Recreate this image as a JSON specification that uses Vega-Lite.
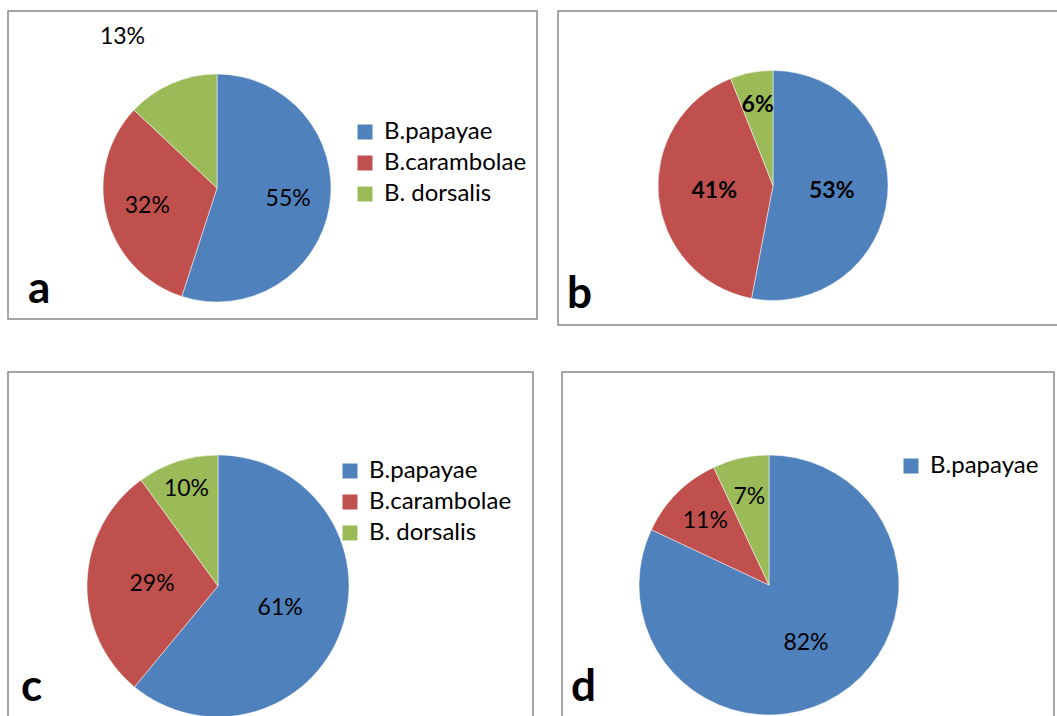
{
  "$schema": "https://vega.github.io/schema/vega-lite/v6.json",
  "padding": {"left": 4, "top": 10, "right": 0, "bottom": 0},
  "background": "white",
  "data": {
    "values": [
      {"panel": "a", "species": "B.papayae", "pct": 0.55},
      {"panel": "a", "species": "B.carambolae", "pct": 0.32},
      {"panel": "a", "species": "B. dorsalis", "pct": 0.13},
      {"panel": "b", "species": "B.papayae", "pct": 0.53},
      {"panel": "b", "species": "B.carambolae", "pct": 0.41},
      {"panel": "b", "species": "B. dorsalis", "pct": 0.06},
      {"panel": "c", "species": "B.papayae", "pct": 0.61},
      {"panel": "c", "species": "B.carambolae", "pct": 0.29},
      {"panel": "c", "species": "B. dorsalis", "pct": 0.10},
      {"panel": "d", "species": "B.papayae", "pct": 0.82},
      {"panel": "d", "species": "B.carambolae", "pct": 0.11},
      {"panel": "d", "species": "B. dorsalis", "pct": 0.07}
    ]
  },
  "config": {
    "view": {"stroke": "#888888", "strokeWidth": 1.5},
    "font": "Lato",
    "legend": {
      "labelFont": "Lato",
      "labelFontSize": 24,
      "labelColor": "#000000",
      "symbolType": "square",
      "symbolSize": 225,
      "symbolStrokeWidth": 0,
      "rowPadding": 7,
      "labelOffset": 7,
      "padding": 0
    },
    "text": {"font": "Lato", "fontSize": 23, "color": "#000000", "align": "center", "baseline": "middle"}
  },
  "spacing": 45,
  "resolve": {"scale": {"color": "independent", "theta": "independent"}, "legend": {"color": "independent"}},
  "vconcat": [
    {
      "spacing": 19,
      "resolve": {"scale": {"color": "independent", "theta": "independent"}, "legend": {"color": "independent"}},
      "hconcat": [
        {
          "width": 529,
          "height": 308,
          "title": {"text": "a", "orient": "bottom", "anchor": "start", "frame": "group", "offset": -16, "baseline": "alphabetic", "dx": 20, "fontSize": 44, "fontWeight": "bold", "font": "Lato", "color": "#000000"},
          "transform": [{"filter": "datum.panel == 'a'"}],
          "encoding": {
            "x": {"datum": 0.3951, "type": "quantitative", "stack": false, "scale": {"domain": [0, 1]}, "axis": null},
            "y": {"datum": 0.5747, "type": "quantitative", "stack": false, "scale": {"domain": [0, 1], "reverse": true}, "axis": null},
            "theta": {"field": "pct", "type": "quantitative", "stack": true},
            "order": {"field": "pct", "type": "quantitative", "sort": "descending"}
          },
          "layer": [
            {
              "mark": {"type": "arc", "outerRadius": 114, "stroke": "white", "strokeWidth": 0.5},
              "encoding": {
                "color": {
                  "field": "species", "type": "nominal",
                  "scale": {"domain": ["B.papayae", "B.carambolae", "B. dorsalis"], "range": ["#4F81BD", "#C0504D", "#9BBB59"]},
                  "legend": {"orient": "none", "legendX": 345, "legendY": 109, "title": null}
                }
              }
            },
            {
              "mark": {"type": "text", "radius": 72},
              "encoding": {
                "text": {"field": "pct", "type": "quantitative", "format": ".0%"},
                "opacity": {"condition": {"test": "datum.pct >= 0.15", "value": 1}, "value": 0}
              }
            },
            {
              "mark": {"type": "text", "radius": 165, "dx": -29},
              "encoding": {
                "text": {"field": "pct", "type": "quantitative", "format": ".0%"},
                "opacity": {"condition": {"test": "datum.pct < 0.15", "value": 1}, "value": 0}
              }
            }
          ]
        },
        {
          "width": 510,
          "height": 314,
          "title": {"text": "b", "orient": "bottom", "anchor": "start", "frame": "group", "offset": -17, "baseline": "alphabetic", "dx": 9, "fontSize": 44, "fontWeight": "bold", "font": "Lato", "color": "#000000"},
          "transform": [{"filter": "datum.panel == 'b'"}],
          "encoding": {
            "x": {"datum": 0.4216, "type": "quantitative", "stack": false, "scale": {"domain": [0, 1]}, "axis": null},
            "y": {"datum": 0.5557, "type": "quantitative", "stack": false, "scale": {"domain": [0, 1], "reverse": true}, "axis": null},
            "theta": {"field": "pct", "type": "quantitative", "stack": true},
            "order": {"field": "pct", "type": "quantitative", "sort": "descending"}
          },
          "layer": [
            {
              "mark": {"type": "arc", "outerRadius": 115, "stroke": "white", "strokeWidth": 0.5},
              "encoding": {
                "color": {
                  "field": "species", "type": "nominal",
                  "scale": {"domain": ["B.papayae", "B.carambolae", "B. dorsalis"], "range": ["#4F81BD", "#C0504D", "#9BBB59"]},
                  "legend": null
                }
              }
            },
            {
              "mark": {"type": "text", "radius": 59, "fontWeight": "bold"},
              "encoding": {
                "text": {"field": "pct", "type": "quantitative", "format": ".0%"},
                "opacity": {"condition": {"test": "datum.pct >= 0.15", "value": 1}, "value": 0}
              }
            },
            {
              "mark": {"type": "text", "radius": 82, "fontWeight": "bold"},
              "encoding": {
                "text": {"field": "pct", "type": "quantitative", "format": ".0%"},
                "opacity": {"condition": {"test": "datum.pct < 0.15", "value": 1}, "value": 0}
              }
            }
          ]
        }
      ]
    },
    {
      "spacing": 27,
      "resolve": {"scale": {"color": "independent", "theta": "independent"}, "legend": {"color": "independent"}},
      "hconcat": [
        {
          "width": 525,
          "height": 350,
          "title": {"text": "c", "orient": "bottom", "anchor": "start", "frame": "group", "offset": -21, "baseline": "alphabetic", "dx": 13, "fontSize": 44, "fontWeight": "bold", "font": "Lato", "color": "#000000"},
          "transform": [{"filter": "datum.panel == 'c'"}],
          "encoding": {
            "x": {"datum": 0.4, "type": "quantitative", "stack": false, "scale": {"domain": [0, 1]}, "axis": null},
            "y": {"datum": 0.6114, "type": "quantitative", "stack": false, "scale": {"domain": [0, 1], "reverse": true}, "axis": null},
            "theta": {"field": "pct", "type": "quantitative", "stack": true},
            "order": {"field": "pct", "type": "quantitative", "sort": "descending"}
          },
          "layer": [
            {
              "mark": {"type": "arc", "outerRadius": 131, "stroke": "white", "strokeWidth": 0.5},
              "encoding": {
                "color": {
                  "field": "species", "type": "nominal",
                  "scale": {"domain": ["B.papayae", "B.carambolae", "B. dorsalis"], "range": ["#4F81BD", "#C0504D", "#9BBB59"]},
                  "legend": {"orient": "none", "legendX": 330, "legendY": 87, "title": null}
                }
              }
            },
            {
              "mark": {"type": "text", "radius": 66},
              "encoding": {
                "text": {"field": "pct", "type": "quantitative", "format": ".0%"},
                "opacity": {"condition": {"test": "datum.pct >= 0.15", "value": 1}, "value": 0}
              }
            },
            {
              "mark": {"type": "text", "radius": 102},
              "encoding": {
                "text": {"field": "pct", "type": "quantitative", "format": ".0%"},
                "opacity": {"condition": {"test": "datum.pct < 0.15", "value": 1}, "value": 0}
              }
            }
          ]
        },
        {
          "width": 492,
          "height": 350,
          "title": {"text": "d", "orient": "bottom", "anchor": "start", "frame": "group", "offset": -21, "baseline": "alphabetic", "dx": 9, "fontSize": 44, "fontWeight": "bold", "font": "Lato", "color": "#000000"},
          "transform": [{"filter": "datum.panel == 'd'"}],
          "encoding": {
            "x": {"datum": 0.4207, "type": "quantitative", "stack": false, "scale": {"domain": [0, 1]}, "axis": null},
            "y": {"datum": 0.6086, "type": "quantitative", "stack": false, "scale": {"domain": [0, 1], "reverse": true}, "axis": null},
            "theta": {"field": "pct", "type": "quantitative", "stack": true},
            "order": {"field": "pct", "type": "quantitative", "sort": "descending"}
          },
          "layer": [
            {
              "mark": {"type": "arc", "outerRadius": 130, "stroke": "white", "strokeWidth": 0.5},
              "encoding": {
                "color": {
                  "field": "species", "type": "nominal",
                  "scale": {"domain": ["B.papayae", "B.carambolae", "B. dorsalis"], "range": ["#4F81BD", "#C0504D", "#9BBB59"]},
                  "legend": {"orient": "none", "legendX": 337, "legendY": 82, "title": null, "values": ["B.papayae"]}
                }
              }
            },
            {
              "mark": {"type": "text", "radius": 69},
              "encoding": {
                "text": {"field": "pct", "type": "quantitative", "format": ".0%"},
                "opacity": {"condition": {"test": "datum.pct >= 0.15", "value": 1}, "value": 0}
              }
            },
            {
              "mark": {"type": "text", "radius": 90},
              "encoding": {
                "text": {"field": "pct", "type": "quantitative", "format": ".0%"},
                "opacity": {"condition": {"test": "datum.pct < 0.15", "value": 1}, "value": 0}
              }
            }
          ]
        }
      ]
    }
  ]
}
